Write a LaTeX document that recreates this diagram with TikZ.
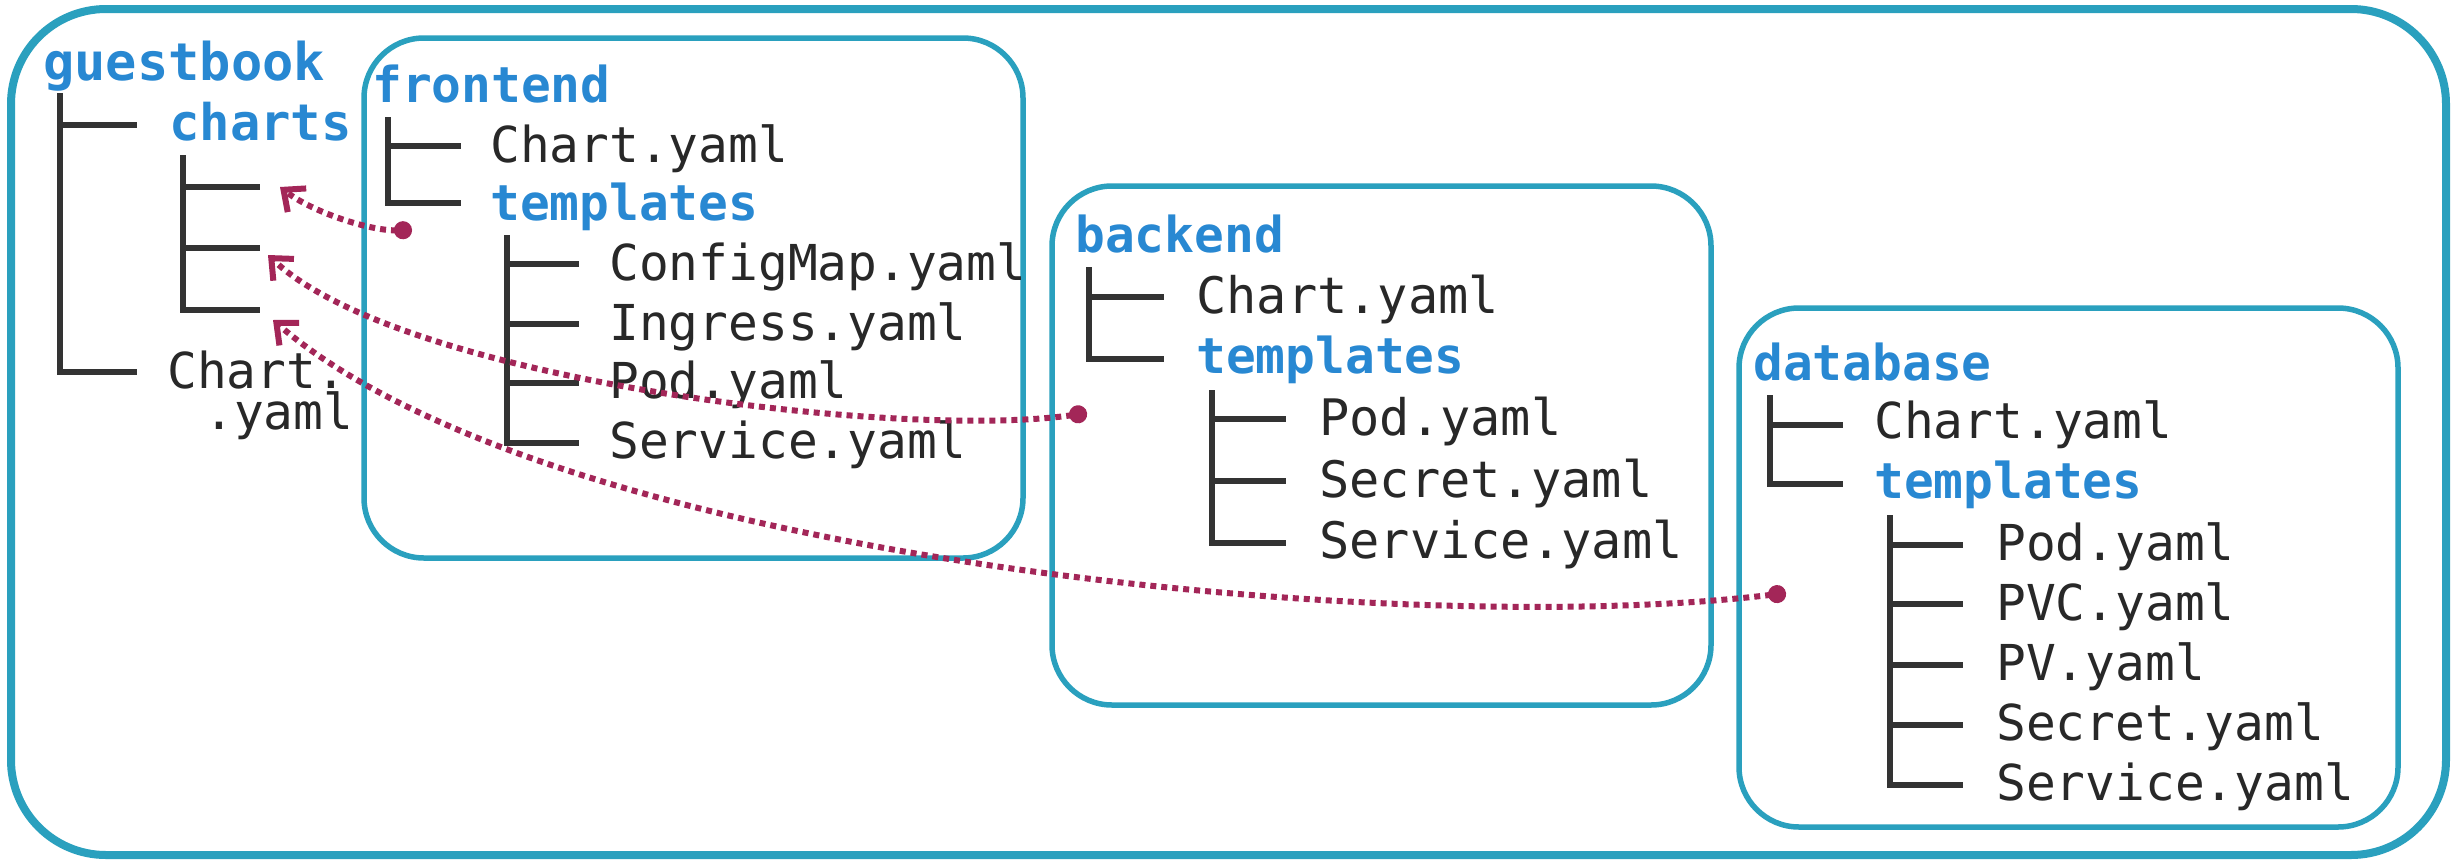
\documentclass[tikz,border=0pt]{standalone}
\usepackage{fontspec}
\setmonofont{DejaVu Sans Mono}
\usetikzlibrary{arrows.meta}
\definecolor{teal1}{RGB}{42,160,190}
\definecolor{blue1}{RGB}{40,136,210}
\definecolor{dark1}{RGB}{51,51,51}
\definecolor{txt1}{RGB}{40,40,40}
\definecolor{arr1}{RGB}{163,38,88}
\tikzset{
  fname/.style={anchor=base west, inner sep=0pt, text=txt1, font=\ttfamily\fontsize{49.5}{59}\selectfont},
  fnameb/.style={fname, font=\ttfamily\fontsize{50.3}{59}\selectfont},
  dname/.style={anchor=base west, inner sep=0pt, text=blue1, font=\ttfamily\bfseries\fontsize{49.5}{59}\selectfont},
  treeline/.style={draw=dark1, line width=6pt},
  chartbox/.style={draw=teal1, line width=5.5pt, rounded corners=60pt},
  outerbox/.style={draw=teal1, line width=8pt, rounded corners=95pt},
  link/.style={draw=arr1, line width=6pt, dash pattern=on 6pt off 5pt,
    {Circle[length=18pt]}-{Straight Barb[length=17pt,width=30pt]}}
}
\begin{document}
\begin{tikzpicture}[x=1pt,y=-1pt]
\useasboundingbox (0,0) rectangle (2453,860);
\fill[white] (0,0) rectangle (2453,860);
% outer box
\draw[outerbox] (11,9) rectangle (2446,855);
% chart boxes
\draw[chartbox] (364,38) rectangle (1023,558);
\draw[chartbox] (1052,186) rectangle (1711,705);
\draw[chartbox] (1739,308) rectangle (2398,827);

% guestbook tree
\node[dname, font=\ttfamily\bfseries\fontsize{52}{59}\selectfont] (gb) at (43,80) {guestbook};
\draw[treeline] (60,93) -- (60,372) -- (137,372);
\draw[treeline] (60,125) -- (137,125);
\node[dname, font=\ttfamily\bfseries\fontsize{50.5}{59}\selectfont] (charts) at (169,140) {charts};
\draw[treeline] (183,155) -- (183,310) -- (260,310);
\draw[treeline] (183,187) -- (260,187);
\draw[treeline] (183,248) -- (260,248);
\node[fname] (gbchart1) at (167,388) {Chart.};
\node[fname] (gbchart2) at (204,429) {.yaml};

% frontend
\node[dname] (fe) at (372,102) {frontend};
\draw[treeline] (388,117) -- (388,203) -- (461,203);
\draw[treeline] (388,146) -- (461,146);
\node[fname] (fechart) at (490,162) {Chart.yaml};
\node[dname] (fetpl) at (490,220) {templates};
\draw[treeline] (507,235) -- (507,443) -- (579,443);
\draw[treeline] (507,264) -- (579,264);
\draw[treeline] (507,324) -- (579,324);
\draw[treeline] (507,383) -- (579,383);
\node[fname] (fecm) at (609,280) {ConfigMap.yaml};
\node[fname] (feing) at (609,340) {Ingress.yaml};
\node[fname] (fepod) at (609,398) {Pod.yaml};
\node[fname] (fesvc) at (609,458) {Service.yaml};

% backend
\node[dname] (be) at (1075,252) {backend};
\draw[treeline] (1089,267) -- (1089,359) -- (1164,359);
\draw[treeline] (1089,297) -- (1164,297);
\node[fnameb] (bechart) at (1196,313) {Chart.yaml};
\node[dname] (betpl) at (1196,373) {templates};
\draw[treeline] (1212,390) -- (1212,543) -- (1286,543);
\draw[treeline] (1212,419) -- (1286,419);
\draw[treeline] (1212,481) -- (1286,481);
\node[fnameb] (bepod) at (1319,435) {Pod.yaml};
\node[fnameb] (besec) at (1319,497) {Secret.yaml};
\node[fnameb] (besvc) at (1319,558) {Service.yaml};

% database
\node[dname] (db) at (1753,380) {database};
\draw[treeline] (1770,395) -- (1770,484) -- (1843,484);
\draw[treeline] (1770,425) -- (1843,425);
\node[fname] (dbchart) at (1874,438) {Chart.yaml};
\node[dname] (dbtpl) at (1874,498) {templates};
\draw[treeline] (1890,515) -- (1890,785) -- (1963,785);
\draw[treeline] (1890,545) -- (1963,545);
\draw[treeline] (1890,604) -- (1963,604);
\draw[treeline] (1890,665) -- (1963,665);
\draw[treeline] (1890,725) -- (1963,725);
\node[fname] (dbpod) at (1996,560) {Pod.yaml};
\node[fname] (dbpvc) at (1996,620) {PVC.yaml};
\node[fname] (dbpv) at (1996,680) {PV.yaml};
\node[fname] (dbsec) at (1996,740) {Secret.yaml};
\node[fname] (dbsvc) at (1996,800) {Service.yaml};

% links
\coordinate (d1) at (412,230);
\coordinate (t1) at (280,187);
\coordinate (d2) at (1087,413);
\coordinate (t2) at (268,255);
\coordinate (d3) at (1786,593);
\coordinate (t3) at (273,320);
\draw[link] (d1) .. controls (370,231) and (312,212) .. (t1);
\draw[link] (d2) .. controls (900,440) and (400,380) .. (t2);
\draw[link] (d3) .. controls (1400,640) and (550,560) .. (t3);
\end{tikzpicture}
\end{document}
